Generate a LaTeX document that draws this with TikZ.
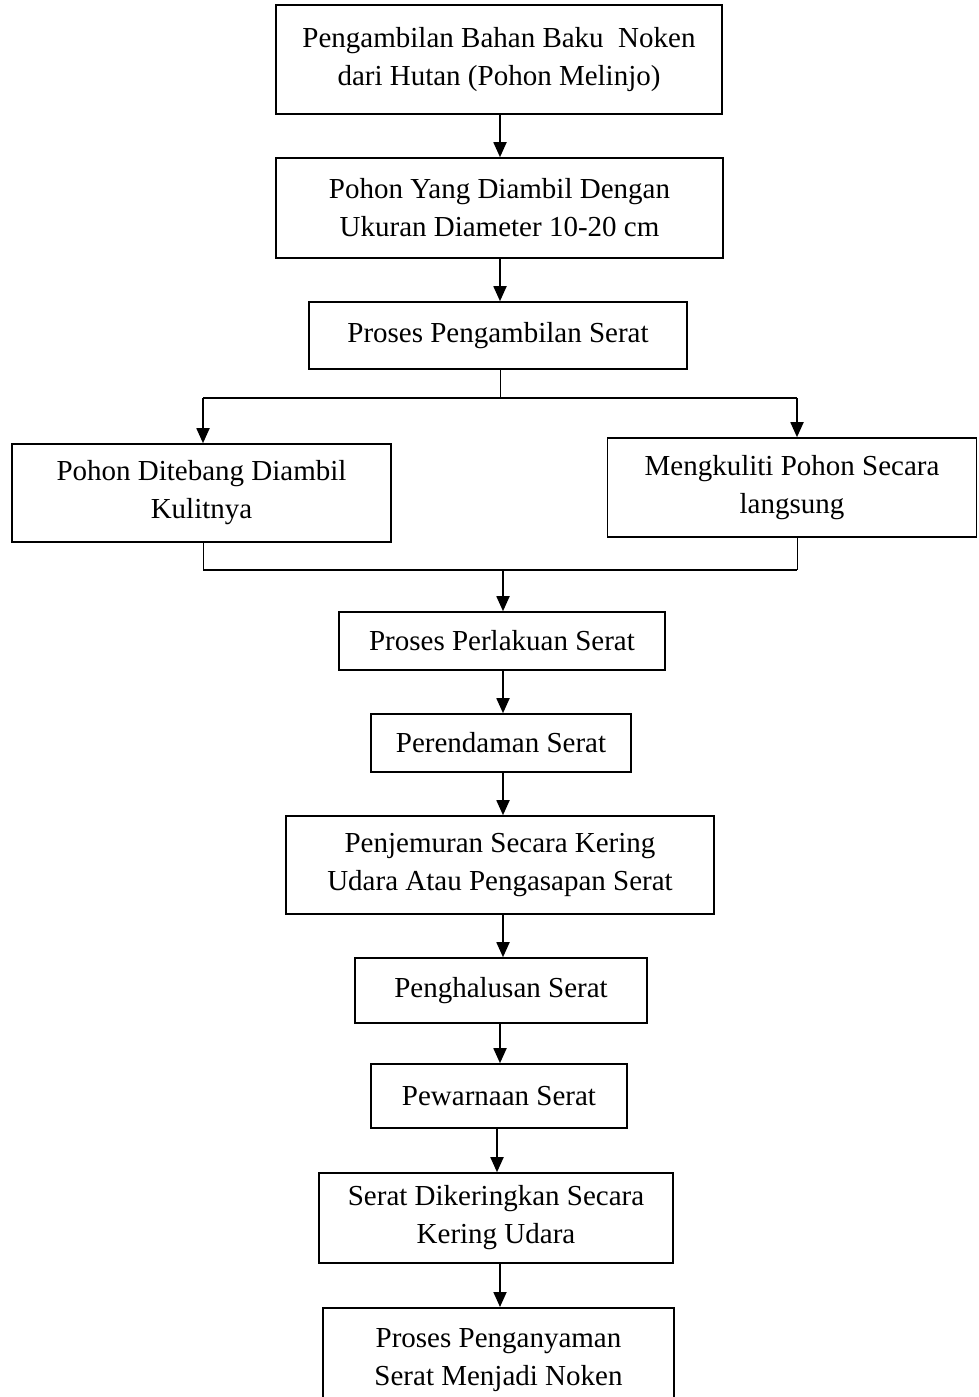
\documentclass[tikz,border=0pt]{standalone}
\usepackage{fontspec}
\setmainfont{Liberation Serif}
\usetikzlibrary{arrows.meta}
\begin{document}
\begin{tikzpicture}[x=1pt,y=-1pt,
  box/.style={draw,line width=1.6pt,rectangle,inner sep=0pt,align=center,
    font=\fontsize{29}{38}\selectfont},
  arr/.style={line width=1.8pt,-{Triangle[length=15pt,width=13pt]}},
  ln/.style={line width=1.8pt},
  thin/.style={line width=0.9pt}]
\useasboundingbox (0,0) rectangle (978,1397);
\node[box,minimum width=446pt,minimum height=109pt] (b1) at (499,59.5) {Pengambilan Bahan Baku\ \ Noken\\dari Hutan (Pohon Melinjo)};
\node[box,minimum width=447pt,minimum height=100pt] (b2) at (499.5,208) {Pohon Yang Diambil Dengan\\Ukuran Diameter 10-20 cm};
\node[box,minimum width=378pt,minimum height=67pt] (b3) at (498,335.5) {Proses Pengambilan Serat};
\node[box,minimum width=379pt,minimum height=98pt] (b4) at (201.5,493) {Pohon Ditebang Diambil\\Kulitnya};
\node[box,minimum width=369pt,minimum height=99pt] (b5) at (792,487.5) {Mengkuliti Pohon Secara\\langsung};
\node[box,minimum width=326pt,minimum height=58pt] (b6) at (502,641) {Proses Perlakuan Serat};
\node[box,minimum width=260pt,minimum height=58pt] (b7) at (501,743) {Perendaman Serat};
\node[box,minimum width=428pt,minimum height=98pt] (b8) at (500,865) {Penjemuran Secara Kering\\Udara Atau Pengasapan Serat};
\node[box,minimum width=292pt,minimum height=65pt] (b9) at (501,990.5) {Penghalusan Serat};
\node[box,minimum width=256pt,minimum height=64pt] (b10) at (499,1096) {Pewarnaan Serat};
\node[box,minimum width=354pt,minimum height=90pt] (b11) at (496,1218) {Serat Dikeringkan Secara\\Kering Udara};
\node[box,minimum width=351pt,minimum height=104pt,anchor=north] (b12) at (498.5,1307) {Proses Penganyaman\\Serat Menjadi Noken};
\coordinate (s1) at (500,398);
\coordinate (sl) at (203,398);
\coordinate (sr) at (797,398);
\coordinate (j1) at (503,570);
\coordinate (jl) at (203,570);
\coordinate (jr) at (797,570);
\draw[arr] (500,0 |- b1.south) -- (500,0 |- b2.north);
\draw[arr] (500,0 |- b2.south) -- (500,0 |- b3.north);
\draw[thin] (500,0 |- b3.south) -- (s1);
\draw[ln] (sl) -- (sr);
\draw[arr] (sl) -- (sl |- b4.north);
\draw[arr] (sr) -- (sr |- b5.north);
\draw[thin] (jl |- b4.south) -- (jl);
\draw[thin] (jr |- b5.south) -- (jr);
\draw[ln] (jl) -- (jr);
\draw[arr] (j1) -- (j1 |- b6.north);
\draw[arr] (503,0 |- b6.south) -- (503,0 |- b7.north);
\draw[arr] (503,0 |- b7.south) -- (503,0 |- b8.north);
\draw[arr] (503,0 |- b8.south) -- (503,0 |- b9.north);
\draw[arr] (500,0 |- b9.south) -- (500,0 |- b10.north);
\draw[arr] (497,0 |- b10.south) -- (497,0 |- b11.north);
\draw[arr] (500,0 |- b11.south) -- (500,0 |- b12.north);
\end{tikzpicture}
\end{document}
